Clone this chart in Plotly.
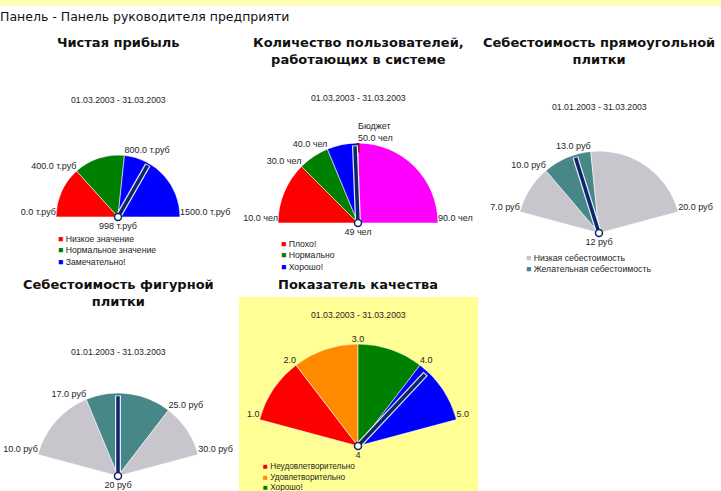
import plotly.graph_objects as go

W, H = 721, 491

# ---------------- data ----------------
page_title = "Панель - Панель руководителя предприяти"

profit_title = ["Чистая прибыль"]
profit_period = "01.03.2003 - 31.03.2003"
profit_bounds = [0, 400, 800, 1500]
profit_names = ["Низкое значение", "Нормальное значение", "Замечательно!"]
profit_value = 998
profit_unit = "т.руб"

users_title = ["Количество пользователей,", "работающих в системе"]
users_period = "01.03.2003 - 31.03.2003"
users_bounds = [10, 30, 40, 50, 90]
users_names = ["Плохо!", "Нормально", "Хорошо!"]
users_value = 49
users_budget = 50
users_budget_name = "Бюджет"
users_unit = "чел"

rect_title = ["Себестоимость прямоугольной", "плитки"]
rect_period = "01.01.2003 - 31.03.2003"
rect_bounds = [7, 10, 13, 20]
rect_names = ["Низкая себестоимость", "Желательная себестоимость"]
rect_value = 12
rect_unit = "руб"

shape_title = ["Себестоимость фигурной", "плитки"]
shape_period = "01.01.2003 - 31.03.2003"
shape_bounds = [10, 17, 25, 30]
shape_names = []
shape_value = 20
shape_unit = "руб"

quality_title = ["Показатель качества"]
quality_period = "01.03.2003 - 31.03.2003"
quality_bounds = [1, 2, 3, 4, 5]
quality_names = ["Неудовлетворительно", "Удовлетворительно", "Хорошо!"]
quality_value = 4.15
quality_unit = ""

# ---------------- styles ----------------
RED, GREEN, BLUE, MAG = "#FF0000", "#008000", "#0000FF", "#FF00FF"
ORANGE = "#FF8A00"
GRAY, TEAL = "#C9C5CC", "#478787"
NAVY = "#0E2566"
TXT = "#1E1E1E"
SMALL = "Liberation Sans, Arial, sans-serif"
BIG = "DejaVu Sans, Verdana, sans-serif"


def px(x):
    return x / W


def py(y):
    return 1 - y / H


gauges = [
    dict(key="polar", bounds=profit_bounds, value=profit_value, unit=profit_unit,
         colors=[RED, GREEN, BLUE], names=profit_names, legcolors=[RED, GREEN, BLUE],
         title=profit_title, period=profit_period,
         cx=118, cy=217, R=62, a0=180, a1=0, title_y=42, period_y=100,
         leg=(56, 238), legsize=8.7),
    dict(key="polar2", bounds=users_bounds, value=users_value, unit=users_unit,
         colors=[RED, GREEN, BLUE, MAG], names=users_names, legcolors=[RED, GREEN, BLUE],
         title=users_title, period=users_period, budget=users_budget,
         cx=358, cy=223, R=80, a0=180, a1=0, title_y=42, period_y=98,
         leg=(279, 243), legsize=8.7),
    dict(key="polar3", bounds=rect_bounds, value=rect_value, unit=rect_unit,
         colors=[GRAY, TEAL, GRAY], names=rect_names, legcolors=[GRAY, TEAL],
         title=rect_title, period=rect_period,
         cx=599, cy=233, R=82, a0=165, a1=15, title_y=42, period_y=107,
         leg=(524, 257), legsize=8.7),
    dict(key="polar4", bounds=shape_bounds, value=shape_value, unit=shape_unit,
         colors=[GRAY, TEAL, GRAY], names=shape_names, legcolors=[],
         title=shape_title, period=shape_period,
         cx=118, cy=476, R=83, a0=165, a1=15, title_y=284, period_y=352,
         leg=(56, 500), legsize=8.7),
    dict(key="polar5", bounds=quality_bounds, value=quality_value, unit=quality_unit,
         colors=[RED, ORANGE, GREEN, BLUE], names=quality_names,
         legcolors=[RED, ORANGE, GREEN],
         title=quality_title, period=quality_period,
         cx=358, cy=446, R=102, a0=165, a1=15, title_y=284, period_y=315,
         leg=(261, 466), legsize=8.2),
]

fig = go.Figure()
annotations = []
layout_polars = {}

for g in gauges:
    b = g["bounds"]
    vmin, vmax = b[0], b[-1]

    def th(v, g=g, vmin=vmin, vmax=vmax):
        return g["a0"] - (v - vmin) / (vmax - vmin) * (g["a0"] - g["a1"])

    sub = g["key"]
    # segments
    for i in range(len(b) - 1):
        t0, t1 = th(b[i]), th(b[i + 1])
        fig.add_trace(go.Barpolar(
            r=[1], theta=[(t0 + t1) / 2], width=[abs(t0 - t1)], base=0,
            marker=dict(color=g["colors"][i], line=dict(color="rgba(255,255,255,0.7)", width=0.8)),
            subplot=sub, showlegend=False, hoverinfo="skip"))
    # bound labels
    for v in b:
        t = th(v)
        label = f"{v:.1f}" + (f" {g['unit']}" if g["unit"] else "")
        pos = "top left" if t > 92 else ("top right" if t < 88 else "top center")
        if g.get("budget") is not None and v == g["budget"]:
            label = users_budget_name + "<br>" + label
            pos = "top right"
        fig.add_trace(go.Scatterpolar(
            r=[1], theta=[t], mode="text", text=[label], textposition=pos,
            textfont=dict(family=SMALL, size=9, color=TXT), cliponaxis=False,
            subplot=sub, showlegend=False, hoverinfo="skip"))
    # budget mark
    if g.get("budget") is not None:
        tb = th(g["budget"])
        fig.add_trace(go.Scatterpolar(
            r=[0.88, 1.08], theta=[tb, tb], mode="lines",
            line=dict(color="#7A1020", width=3), cliponaxis=False,
            subplot=sub, showlegend=False, hoverinfo="skip"))
    # needle
    tv = th(g["value"])
    fig.add_trace(go.Scatterpolar(
        r=[0, 0.97], theta=[tv, tv], mode="lines",
        line=dict(color="rgba(235,240,255,0.95)", width=6), cliponaxis=False,
        subplot=sub, showlegend=False, hoverinfo="skip"))
    fig.add_trace(go.Scatterpolar(
        r=[0, 0.96], theta=[tv, tv], mode="lines",
        line=dict(color=NAVY, width=3.5), cliponaxis=False,
        subplot=sub, showlegend=False, hoverinfo="skip"))
    vlabel = f"{g['value']:.0f}" + (f" {g['unit']}" if g["unit"] else "")
    fig.add_trace(go.Scatterpolar(
        r=[0], theta=[tv], mode="markers+text", text=[vlabel], textposition="bottom center",
        marker=dict(size=7, color="white", line=dict(color=NAVY, width=1.5)),
        textfont=dict(family=SMALL, size=9, color=TXT), cliponaxis=False,
        subplot=sub, showlegend=False, hoverinfo="skip"))

    cx, cy, R = g["cx"], g["cy"], g["R"]
    layout_polars[sub] = dict(
        domain=dict(x=[px(cx - R), px(cx + R)], y=[py(cy), py(cy - R)]),
        sector=[0, 180],
        bgcolor="rgba(0,0,0,0)",
        radialaxis=dict(visible=False, range=[0, 1]),
        angularaxis=dict(visible=False),
        barmode="overlay",
    )

    # title
    annotations.append(dict(
        x=px(cx), y=py(g["title_y"]), xref="paper", yref="paper",
        text="<br>".join(f"<b>{t}</b>" for t in g["title"]),
        showarrow=False, xanchor="center", yanchor="middle" if len(g["title"]) == 1 else "top",
        yshift=0 if len(g["title"]) == 1 else 9,
        font=dict(family=BIG, size=13, color="#111"), align="center"))
    # period
    annotations.append(dict(
        x=px(cx), y=py(g["period_y"]), xref="paper", yref="paper",
        text=g["period"], showarrow=False, xanchor="center", yanchor="middle",
        font=dict(family=SMALL, size=8.7, color=TXT)))
    # legend
    if g["names"]:
        lines = [f'<span style="color:{c}">■</span> {n}'
                 for c, n in zip(g["legcolors"], g["names"])]
        lx, ly = g["leg"]
        annotations.append(dict(
            x=px(lx), y=py(ly - 6), xref="paper", yref="paper",
            text="<br>".join(lines), showarrow=False, xanchor="left", yanchor="top",
            align="left", font=dict(family=SMALL, size=g["legsize"], color=TXT)))

annotations.append(dict(
    x=0, y=py(17), xref="paper", yref="paper", text=page_title, showarrow=False,
    xanchor="left", yanchor="middle", xshift=-2,
    font=dict(family=BIG, size=12.5, color="#111")))

shapes = [
    dict(type="rect", xref="paper", yref="paper", x0=0, x1=1, y0=py(6), y1=1,
         fillcolor="#FFFCB5", line=dict(width=0), layer="below"),
    dict(type="rect", xref="paper", yref="paper", x0=px(239), x1=px(478), y0=0, y1=py(297),
         fillcolor="#FFFF96", line=dict(width=0), layer="below"),
]

fig.update_layout(
    width=W, height=H, autosize=False,
    margin=dict(l=0, r=0, t=0, b=0, pad=0),
    paper_bgcolor="white",
    showlegend=False,
    annotations=annotations,
    shapes=shapes,
    **layout_polars,
)

fig.write_html("out.html")
